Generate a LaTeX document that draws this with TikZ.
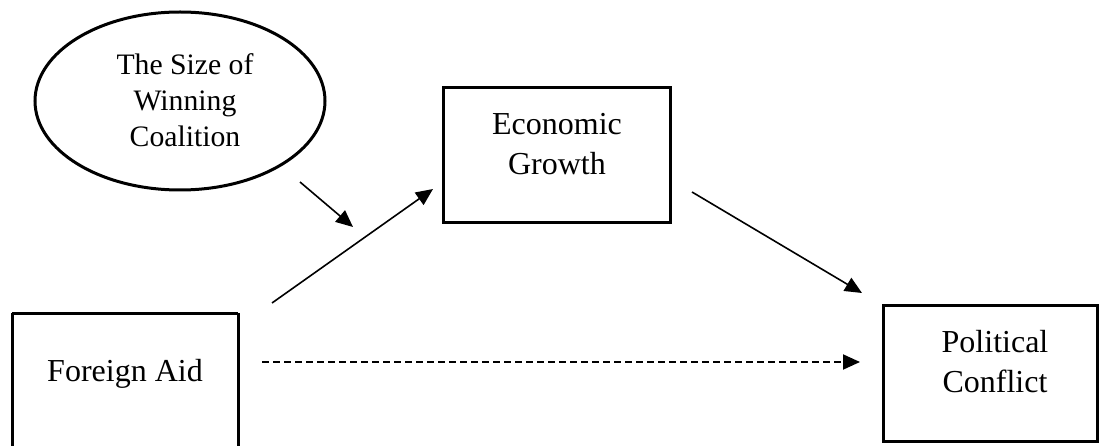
\documentclass[tikz,border=0pt]{standalone}
\usepackage{fontspec}
\setmainfont{Liberation Serif}
\usetikzlibrary{arrows.meta,shapes.geometric}
\begin{document}
\begin{tikzpicture}[x=1pt,y=-1pt,
  boxshape/.style={draw,line width=3pt,rectangle,inner sep=0pt},
  boxtext/.style={align=center,font=\fontsize{32}{40}\selectfont,inner sep=0pt},
  ovaltext/.style={align=center,font=\fontsize{29.7}{36}\selectfont,inner sep=0pt},
  conn/.style={line width=1.6pt,-{Triangle[length=17pt,width=15pt]}},
  dconn/.style={line width=1.9pt,dash pattern=on 7pt off 4pt,-{Triangle[length=17pt,width=15pt]}}]
\useasboundingbox (0,0) rectangle (1099,446);
% ellipse
\node[draw,ellipse,line width=3pt,minimum width=290pt,minimum height=178pt,inner sep=0pt] (wc) at (180,101) {};
\node[ovaltext,anchor=base] (wct) at (185,147) {The Size of\\Winning\\Coalition};
% Economic Growth
\draw[line width=3pt] (443,88) rectangle (670,223);
\node[inner sep=0pt,minimum width=227pt,minimum height=135pt] (eg) at (556.5,155.5) {};
\node[boxtext,anchor=base] (egt) at (557,175) {Economic\\Growth};
% Foreign Aid
\draw[line width=3pt] (12,313) -- (12,450) (238,313) -- (238,450) (12,313) -- (238,313);
\node[inner sep=0pt,minimum width=226pt,minimum height=137pt] (fa) at (125,381) {};
\node[boxtext,anchor=base] (fat) at (125,381) {Foreign Aid};
% Political Conflict
\draw[line width=3pt] (883,305) rectangle (1097,441);
\node[inner sep=0pt,minimum width=214pt,minimum height=136pt] (pc) at (990,373) {};
\node[boxtext,anchor=base] (pct) at (995,392) {Political\\Conflict};
% connector end points
\coordinate (wcA) at (300,182);
\coordinate (wcB) at (353,227);
\coordinate (faA) at (272,303);
\coordinate (egA) at (433,189);
\coordinate (egB) at (692,192);
\coordinate (pcA) at (862,293);
\coordinate (faB) at (262,362);
\coordinate (pcB) at (860,362);
\draw[conn] (wcA) -- (wcB);
\draw[conn] (faA) -- (egA);
\draw[conn] (egB) -- (pcA);
\draw[dconn] (faB) -- (pcB);
\end{tikzpicture}
\end{document}
